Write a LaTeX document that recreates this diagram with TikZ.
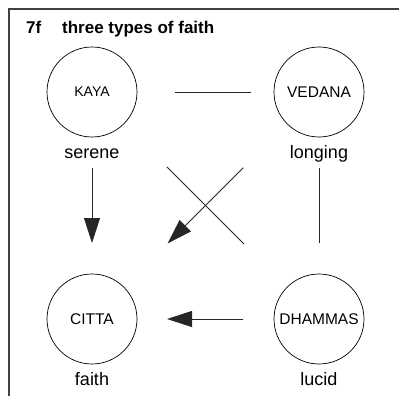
\documentclass[tikz,border=0pt]{standalone}
\usepackage{fontspec}
\setmainfont{Liberation Sans}
\usetikzlibrary{arrows.meta}
\begin{document}
\begin{tikzpicture}[x=1pt,y=-1pt,
  frame/.style={draw=black!75, line width=1.3pt},
  mind/.style={circle, draw, line width=0.7pt, minimum size=90pt, inner sep=0pt, outer sep=0pt,
    font=\fontsize{15.5}{18}\selectfont},
  quality/.style={anchor=base, inner sep=0pt, font=\fontsize{18}{21}\selectfont},
  link/.style={draw=black!85, line width=0.8pt},
  flow/.style={link, -{Triangle[length=25pt,width=16pt]}},
  heading/.style={anchor=base west, inner sep=0pt, font=\bfseries\fontsize{17}{20}\selectfont}
]
\useasboundingbox (0,0) rectangle (399,396);
% open frame: top and left edges
\draw[frame] (399,9) -- (9,9) -- (9,396);
\node[heading] (num) at (26,34) {7f};
\node[heading] (title) at (62,34) {three types of faith};
% the four aggregates
\node[mind, font=\fontsize{14}{16}\selectfont] (kaya) at (92,92) {KAYA};
\node[mind] (vedana) at (319,92) {VEDANA};
\node[mind] (citta) at (92,319) {CITTA};
\node[mind] (dhammas) at (319,319) {DHAMMAS};
% qualities of faith
\node[quality] (serene) at (92,158) {serene};
\node[quality] (longing) at (319,158) {longing};
\node[quality] (faith) at (92,385) {faith};
\node[quality] (lucid) at (319,385) {lucid};
% connections
\draw[link, shorten <=38pt, shorten >=23pt] (kaya) -- (vedana);
\draw[link, shorten <=31pt, shorten >=31pt] (vedana) -- (dhammas);
\draw[flow, shorten <=31pt, shorten >=31pt] (kaya) -- (citta);
\draw[flow, shorten <=31pt, shorten >=30pt] (dhammas) -- (citta);
\draw[link, shorten <=61pt, shorten >=61pt] (kaya) -- (dhammas);
\draw[flow, shorten <=62pt, shorten >=62pt] (vedana) -- (citta);
\end{tikzpicture}
\end{document}
